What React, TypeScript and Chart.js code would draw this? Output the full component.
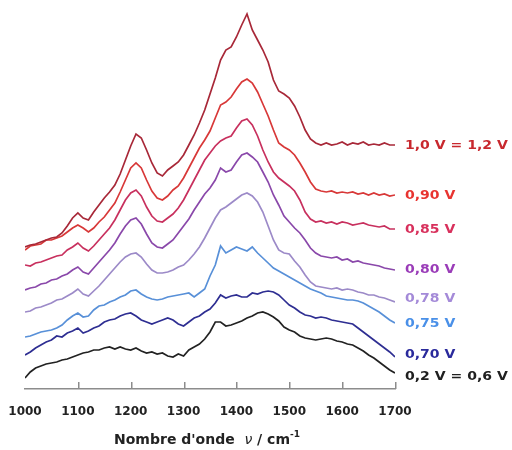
import React, { useEffect, useRef } from "react";
import { Chart, registerables } from "chart.js";

Chart.register(...registerables);

const wavenumbers = [
  1000, 1010, 1020, 1030, 1040, 1050, 1060, 1070, 1080, 1090,
  1100, 1110, 1120, 1130, 1140, 1150, 1160, 1170, 1180, 1190,
  1200, 1210, 1220, 1230, 1240, 1250, 1260, 1270, 1280, 1290,
  1300, 1310, 1320, 1330, 1340, 1350, 1360, 1370, 1380, 1390,
  1400, 1410, 1420, 1430, 1440, 1450, 1460, 1470, 1480, 1490,
  1500, 1510, 1520, 1530, 1540, 1550, 1560, 1570, 1580, 1590,
  1600, 1610, 1620, 1630, 1640, 1650, 1660, 1670, 1680, 1690, 1700,
];

const xTicks = [1000, 1100, 1200, 1300, 1400, 1500, 1600, 1700];

// Offset absorbance spectra (arbitrary units, stacked)
const s10to12V = [
  153, 155, 156, 158, 160, 162, 163, 167, 174, 182,
  187, 182, 180, 188, 195, 202, 208, 215, 226, 240,
  254, 266, 262, 250, 237, 227, 224, 230, 234, 238,
  245, 255, 265, 277, 290, 306, 322, 340, 350, 353,
  363, 375, 386, 370, 360, 350, 338, 320, 309, 306,
  302, 294, 283, 270, 261, 257, 255, 257, 255, 256,
  258, 255, 257, 256, 258, 255, 256, 255, 257, 255, 255,
];
const s090V = [
  150, 154, 155, 156, 160, 160, 162, 164, 168, 172,
  175, 172, 168, 172, 178, 183, 190, 197, 208, 220,
  232, 237, 232, 220, 209, 202, 200, 204, 210, 214,
  222, 232, 242, 252, 260, 269, 282, 295, 298, 303,
  311, 318, 321, 317, 308, 296, 284, 270, 257, 253,
  250, 245, 237, 228, 218, 211, 209, 208, 209, 207,
  208, 207, 208, 206, 207, 205, 207, 205, 206, 204, 205,
];
const s085V = [
  135, 134, 137, 138, 140, 142, 144, 145, 150, 153,
  157, 152, 149, 154, 160, 166, 172, 180, 190, 200,
  207, 210, 204, 193, 184, 179, 178, 182, 186, 192,
  200, 210, 220, 230, 240, 247, 254, 259, 262, 264,
  272, 279, 281, 275, 264, 250, 238, 228, 222, 218,
  214, 209, 200, 188, 181, 178, 179, 177, 178, 176,
  178, 177, 175, 176, 177, 175, 174, 173, 174, 171, 171,
];
const s080V = [
  110, 112, 113, 116, 117, 120, 121, 124, 126, 130,
  133, 128, 126, 132, 138, 144, 150, 157, 166, 174,
  180, 182, 176, 166, 157, 153, 152, 156, 160, 167,
  174, 181, 190, 198, 206, 212, 220, 232, 228, 230,
  238, 245, 247, 243, 238, 228, 218, 205, 195, 184,
  178, 172, 167, 160, 152, 147, 144, 143, 142, 143,
  140, 141, 138, 139, 137, 136, 135, 134, 132, 131, 130,
];
const s078V = [
  88, 89, 92, 93, 95, 97, 100, 101, 104, 107,
  111, 106, 104, 109, 114, 120, 126, 132, 138, 143,
  146, 147, 143, 136, 130, 127, 127, 128, 130, 133,
  135, 140, 146, 153, 162, 172, 182, 190, 193, 197,
  201, 205, 207, 204, 198, 188, 174, 160, 150, 147,
  146, 139, 133, 125, 118, 114, 113, 112, 111, 112,
  110, 111, 110, 108, 107, 105, 105, 103, 102, 100, 98,
];
const s075V = [
  63, 64, 66, 68, 69, 70, 72, 75, 80, 84,
  87, 83, 84, 90, 94, 95, 98, 100, 103, 105,
  109, 110, 106, 103, 101, 100, 101, 103, 104, 105,
  106, 107, 103, 107, 111, 124, 135, 154, 147, 150,
  153, 151, 149, 153, 147, 142, 137, 132, 129, 126,
  123, 120, 117, 114, 111, 109, 107, 104, 103, 102,
  101, 100, 100, 99, 97, 94, 91, 88, 84, 80, 77,
];
const s070V = [
  45, 48, 52, 55, 58, 60, 64, 63, 67, 69,
  72, 67, 69, 72, 74, 78, 80, 81, 84, 86,
  87, 84, 80, 78, 76, 78, 80, 82, 80, 76,
  74, 78, 82, 84, 88, 91, 97, 105, 102, 104,
  105, 103, 103, 107, 106, 108, 109, 108, 105, 100,
  95, 92, 88, 85, 84, 82, 83, 82, 80, 79,
  78, 77, 76, 72, 68, 64, 60, 56, 52, 48, 43,
];
const s02to06V = [
  22, 28, 32, 34, 36, 37, 38, 40, 41, 43,
  45, 47, 48, 50, 50, 52, 53, 51, 53, 51,
  50, 52, 49, 47, 48, 46, 47, 44, 43, 46,
  44, 50, 53, 56, 61, 68, 78, 78, 74, 75,
  77, 79, 82, 84, 87, 88, 86, 83, 79, 73,
  70, 68, 64, 62, 61, 60, 61, 62, 61, 59,
  58, 56, 55, 52, 49, 45, 42, 38, 34, 30, 27,
];

const seriesLabels = [
  "1,0 V = 1,2 V",
  "0,90 V",
  "0,85 V",
  "0,80 V",
  "0,78 V",
  "0,75 V",
  "0,70 V",
  "0,2 V = 0,6 V",
];
const seriesValues = [s10to12V, s090V, s085V, s080V, s078V, s075V, s070V, s02to06V];
const lineColors = ["#a82838", "#d83838", "#c8305e", "#8a48aa", "#9c8ac8", "#5890d8", "#2e2e92", "#222222"];
const labelColors = ["#c8282e", "#e83430", "#d8305c", "#9a3cb8", "#a48ad8", "#4a90e8", "#2a2a9c", "#202020"];
// small vertical nudges of the end labels (px), to avoid overlaps as in the original
const labelNudge = [1, 1, 1, 0, -3, 1, -2, 4];

const FONT = "'DejaVu Sans', sans-serif";

const decorPlugin = {
  id: "decor",
  afterDraw(chart: any) {
    const ctx = chart.ctx;
    const xs = chart.scales.x;
    const ys = chart.scales.y;
    const x0 = xs.getPixelForValue(1000);
    const x1 = xs.getPixelForValue(1700);
    let by = ys.getPixelForValue(11);
    if (!isFinite(by)) by = 389;
    by = Math.round(by);
    ctx.save();
    ctx.globalAlpha = 1;
    ctx.globalCompositeOperation = "source-over";
    // inner tick marks pointing up from the axis line
    ctx.fillStyle = "#8c8c8c";
    xTicks.forEach((t, i) => {
      if (i === 0) return;
      const px = Math.round(xs.getPixelForValue(t));
      ctx.fillRect(px, by - 7, 1.5, 7);
    });
    // series labels at right
    ctx.font = `bold 13px ${FONT}`;
    ctx.textBaseline = "middle";
    ctx.textAlign = "left";
    chart.data.datasets.forEach((ds: any, i: number) => {
      const meta = chart.getDatasetMeta(i);
      const last = meta.data[meta.data.length - 1];
      ctx.save();
      ctx.translate(x1 + 10, last.y + labelNudge[i]);
      ctx.scale(1.08, 1);
      ctx.fillStyle = labelColors[i];
      ctx.fillText(ds.label, 0, 0);
      ctx.restore();
    });
    // axis title with italic nu and superscript
    const y = 440;
    const bold = `bold 14px ${FONT}`;
    const ital = `italic 14px ${FONT}`;
    const sup = `bold 9px ${FONT}`;
    const parts = [
      { t: "Nombre d'onde  ", f: bold, dy: 0 },
      { t: "\u03BD", f: ital, dy: 0 },
      { t: " / cm", f: bold, dy: 0 },
      { t: "-1", f: sup, dy: -5 },
    ];
    let total = 0;
    parts.forEach((p) => {
      ctx.font = p.f;
      total += ctx.measureText(p.t).width;
    });
    let x = (x0 + x1) / 2 - total / 2 - 3;
    ctx.fillStyle = "#222222";
    ctx.textBaseline = "middle";
    parts.forEach((p) => {
      ctx.font = p.f;
      ctx.fillText(p.t, x, y + p.dy);
      x += ctx.measureText(p.t).width;
    });
    ctx.restore();
  },
};

export default function App() {
  const ref = useRef<HTMLCanvasElement>(null);
  useEffect(() => {
    document.body.style.margin = "0";
    const canvas = ref.current!;
    const chart = new Chart(canvas, {
      type: "line",
      data: {
        datasets: seriesValues.map((vals, i) => ({
          label: seriesLabels[i],
          data: wavenumbers.map((w, j) => ({ x: w, y: vals[j] })),
          borderColor: lineColors[i],
          borderWidth: 1.7,
          pointRadius: 0,
          tension: 0,
          fill: false,
        })),
      },
      options: {
        animation: false,
        responsive: false,
        maintainAspectRatio: false,
        layout: { padding: { left: 25, right: 117, top: 0, bottom: 0 } },
        plugins: { legend: { display: false }, tooltip: { enabled: false } },
        scales: {
          x: {
            type: "linear",
            min: 1000,
            max: 1700,
            grid: { display: true, drawOnChartArea: false, drawTicks: false, color: "#8c8c8c" },
            border: { display: true, color: "#8c8c8c", width: 1.5 },
            afterBuildTicks: (scale: any) => {
              scale.ticks = xTicks.map((v) => ({ value: v }));
            },
            afterFit: (scale: any) => {
              scale.height = 61;
              scale.paddingLeft = 0;
              scale.paddingRight = 0;
            },
            ticks: {
              padding: 16,
              maxRotation: 0,
              autoSkip: false,
              color: "#222222",
              font: { family: FONT, size: 12, weight: "bold" },
              callback: (v: any) => String(v),
            },
          },
          y: { display: false, min: 11, max: 400 },
        },
      },
      plugins: [decorPlugin],
    });
    return () => chart.destroy();
  }, []);
  return (
    <div style={{ width: 512, height: 450, background: "#fff" }}>
      <canvas ref={ref} width={512} height={450} style={{ display: "block" }} />
    </div>
  );
}
